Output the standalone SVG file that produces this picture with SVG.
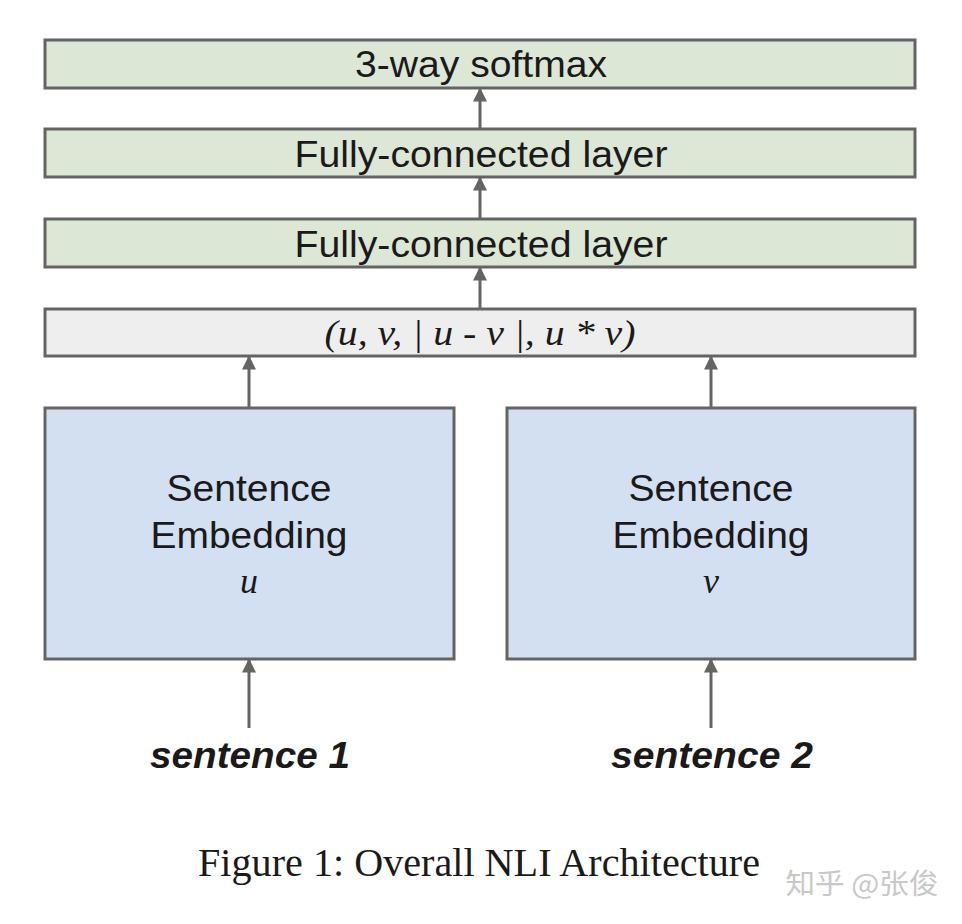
<svg xmlns="http://www.w3.org/2000/svg" width="962" height="924" viewBox="0 0 962 924">
<style>
.box{stroke:#646464;stroke-width:3}
.green{fill:#dce7d5}
.gray{fill:#eeeeee}
.blue{fill:#d2e0f1}
.sans{font-family:"Liberation Sans",Arial,sans-serif;fill:#1a1a1a;text-anchor:middle}
.serif{font-family:"Liberation Serif","Times New Roman",serif;fill:#1a1a1a;text-anchor:middle}
.conn{stroke:#646464;stroke-width:3;fill:none;marker-end:url(#ah)}
</style>
<defs>
<marker id="ah" viewBox="0 0 10 10" refX="9" refY="5" markerUnits="userSpaceOnUse" markerWidth="18" markerHeight="14" orient="auto">
<path d="M0,0 L10,5 L0,10 z" fill="#646464"/>
</marker>
</defs>
<rect width="962" height="924" fill="#ffffff"/>
<g id="softmax">
<rect class="box green" x="45" y="40" width="870" height="48"/>
<text class="sans" x="481" y="77" font-size="36" textLength="252" lengthAdjust="spacingAndGlyphs">3-way softmax</text>
</g>
<g id="fc2">
<rect class="box green" x="45" y="129" width="870" height="48"/>
<text class="sans" x="481" y="167" font-size="36" textLength="373" lengthAdjust="spacingAndGlyphs">Fully-connected layer</text>
</g>
<g id="fc1">
<rect class="box green" x="45" y="219" width="870" height="48"/>
<text class="sans" x="481" y="257" font-size="36" textLength="373" lengthAdjust="spacingAndGlyphs">Fully-connected layer</text>
</g>
<g id="concat">
<rect class="box gray" x="45" y="309" width="870" height="47"/>
<text class="serif" x="480" y="345" font-size="36" font-style="italic" textLength="311" lengthAdjust="spacingAndGlyphs">(u, v, | u - v |, u * v)</text>
</g>
<g id="emb_u">
<rect class="box blue" x="45" y="408" width="409" height="251"/>
<text class="sans" x="249" y="501" font-size="37" textLength="165" lengthAdjust="spacingAndGlyphs">Sentence</text>
<text class="sans" x="249" y="548" font-size="37" textLength="197" lengthAdjust="spacingAndGlyphs">Embedding</text>
<text class="serif" x="249" y="593" font-size="36" font-style="italic">u</text>
</g>
<g id="emb_v">
<rect class="box blue" x="507" y="408" width="408" height="251"/>
<text class="sans" x="711" y="501" font-size="37" textLength="165" lengthAdjust="spacingAndGlyphs">Sentence</text>
<text class="sans" x="711" y="548" font-size="37" textLength="197" lengthAdjust="spacingAndGlyphs">Embedding</text>
<text class="serif" x="711" y="593" font-size="36" font-style="italic">v</text>
</g>
<g id="s1">
<text class="sans" x="250" y="768" font-size="36" font-weight="bold" font-style="italic" textLength="200" lengthAdjust="spacingAndGlyphs">sentence 1</text>
</g>
<g id="s2">
<text class="sans" x="712" y="768" font-size="36" font-weight="bold" font-style="italic" textLength="202" lengthAdjust="spacingAndGlyphs">sentence 2</text>
</g>
<g id="connectors">
<line class="conn" x1="480" y1="128" x2="480" y2="89"/>
<line class="conn" x1="480" y1="218" x2="480" y2="178"/>
<line class="conn" x1="480" y1="308" x2="480" y2="268"/>
<line class="conn" x1="249" y1="407" x2="249" y2="357"/>
<line class="conn" x1="711" y1="407" x2="711" y2="357"/>
<line class="conn" x1="249" y1="728" x2="249" y2="660"/>
<line class="conn" x1="711" y1="728" x2="711" y2="660"/>
</g>
<g id="caption">
<text class="serif" x="479" y="876" font-size="39" textLength="562" lengthAdjust="spacingAndGlyphs">Figure 1: Overall NLI Architecture</text>
</g>
<g id="watermark">
<text x="862" y="894" font-size="28" fill="#c8c8c8" text-anchor="middle" font-family="'Noto Sans CJK SC',sans-serif" textLength="153" lengthAdjust="spacingAndGlyphs">知乎 @张俊</text>
</g>
</svg>
